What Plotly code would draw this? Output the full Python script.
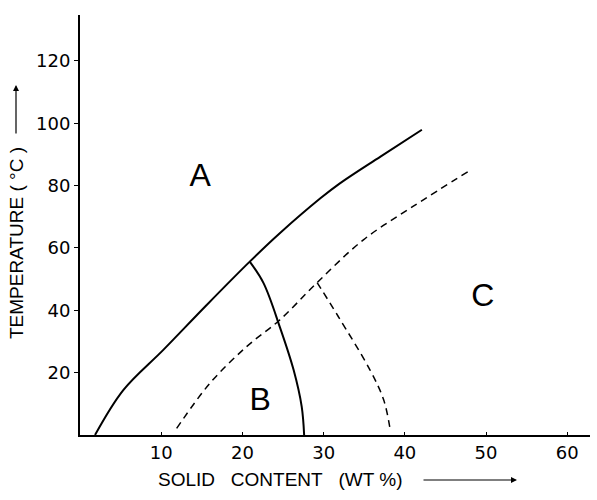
import plotly.graph_objects as go

# A/B boundary (solid)
ab_x = [1.85, 5.33, 10.26, 15.6, 20.9, 24.6, 29.6, 32.0, 37.0, 42.1]
ab_y = [0, 14.4, 27.3, 41.7, 55.6, 64.7, 75.9, 80.7, 89.3, 97.9]
# B/C boundary (solid)
bc_x = [20.9, 22.6, 24.6, 26.3, 27.3, 27.6]
bc_y = [55.6, 48.7, 34.7, 20.9, 9.1, 0]
# dashed upper boundary
d1_x = [11.9, 16.0, 20.5, 24.6, 29.2, 34.9, 41.0, 47.8]
d1_y = [2.1, 16.6, 28.3, 36.9, 48.9, 62.6, 73.3, 84.5]
# dashed lower boundary
d2_x = [29.2, 31.8, 35.7, 37.4, 38.2]
d2_y = [48.9, 38.0, 20.9, 11.2, 1.6]

region_labels = ["A", "B", "C"]
region_x = [14.8, 22.2, 49.6]
region_y = [82.5, 10.6, 44.0]

x_ticks = [10, 20, 30, 40, 50, 60]
y_ticks = [20, 40, 60, 80, 100, 120]

FONT = "Liberation Sans"
TICKFONT = "DejaVu Sans"
fig = go.Figure()
fig.add_trace(go.Scatter(x=ab_x, y=ab_y, mode="lines", line=dict(color="black", width=2, shape="spline", smoothing=1), showlegend=False))
fig.add_trace(go.Scatter(x=bc_x, y=bc_y, mode="lines", line=dict(color="black", width=2, shape="spline", smoothing=1), showlegend=False))
fig.add_trace(go.Scatter(x=d1_x, y=d1_y, mode="lines", line=dict(color="black", width=1.5, dash="7px,5px", shape="spline", smoothing=1), showlegend=False))
fig.add_trace(go.Scatter(x=d2_x, y=d2_y, mode="lines", line=dict(color="black", width=1.5, dash="7px,5px", shape="spline", smoothing=1), showlegend=False))
fig.add_trace(go.Scatter(x=region_x, y=region_y, mode="text", text=region_labels,
                         textfont=dict(family=FONT, size=32, color="black"), showlegend=False))

fig.update_layout(
    width=597, height=500,
    margin=dict(l=80, r=7, t=15, b=65),
    plot_bgcolor="white", paper_bgcolor="white",
    font=dict(family=FONT, color="black"),
    xaxis=dict(range=[0, 62.8], tickvals=x_ticks, showgrid=False, zeroline=False,
               showline=True, linecolor="black", linewidth=2, ticks="inside", ticklen=3,
               tickcolor="black", tickfont=dict(size=18, family=TICKFONT)),
    yaxis=dict(range=[0, 134.7], tickvals=y_ticks, showgrid=False, zeroline=False,
               showline=True, linecolor="black", linewidth=2, ticks="outside", ticklen=4,
               tickcolor="black", tickfont=dict(size=18, family=TICKFONT)),
    annotations=[
        dict(text="SOLID&nbsp;&nbsp; CONTENT&nbsp;&nbsp; (WT %)", xref="paper", yref="paper",
             x=0.394, y=-0.107, xanchor="center", yanchor="middle", showarrow=False,
             font=dict(size=19, family=FONT)),
        dict(text="", xref="paper", yref="paper", x=(517 - 80) / 510, y=(435 - 480) / 420,
             ax=-95, ay=0, showarrow=True, arrowhead=2, arrowsize=1, arrowwidth=1.2, arrowcolor="black"),
        dict(text="TEMPERATURE ( °C )", xref="paper", yref="paper", textangle=-90,
             x=(16 - 80) / 510, y=(435 - 243) / 420, xanchor="center", yanchor="middle",
             showarrow=False, font=dict(size=19, family=FONT)),
        dict(text="", xref="paper", yref="paper", x=(16 - 80) / 510, y=(435 - 85) / 420,
             ax=0, ay=50, showarrow=True, arrowhead=2, arrowsize=1, arrowwidth=1.2, arrowcolor="black"),
    ],
)
fig.write_html("out.html")
